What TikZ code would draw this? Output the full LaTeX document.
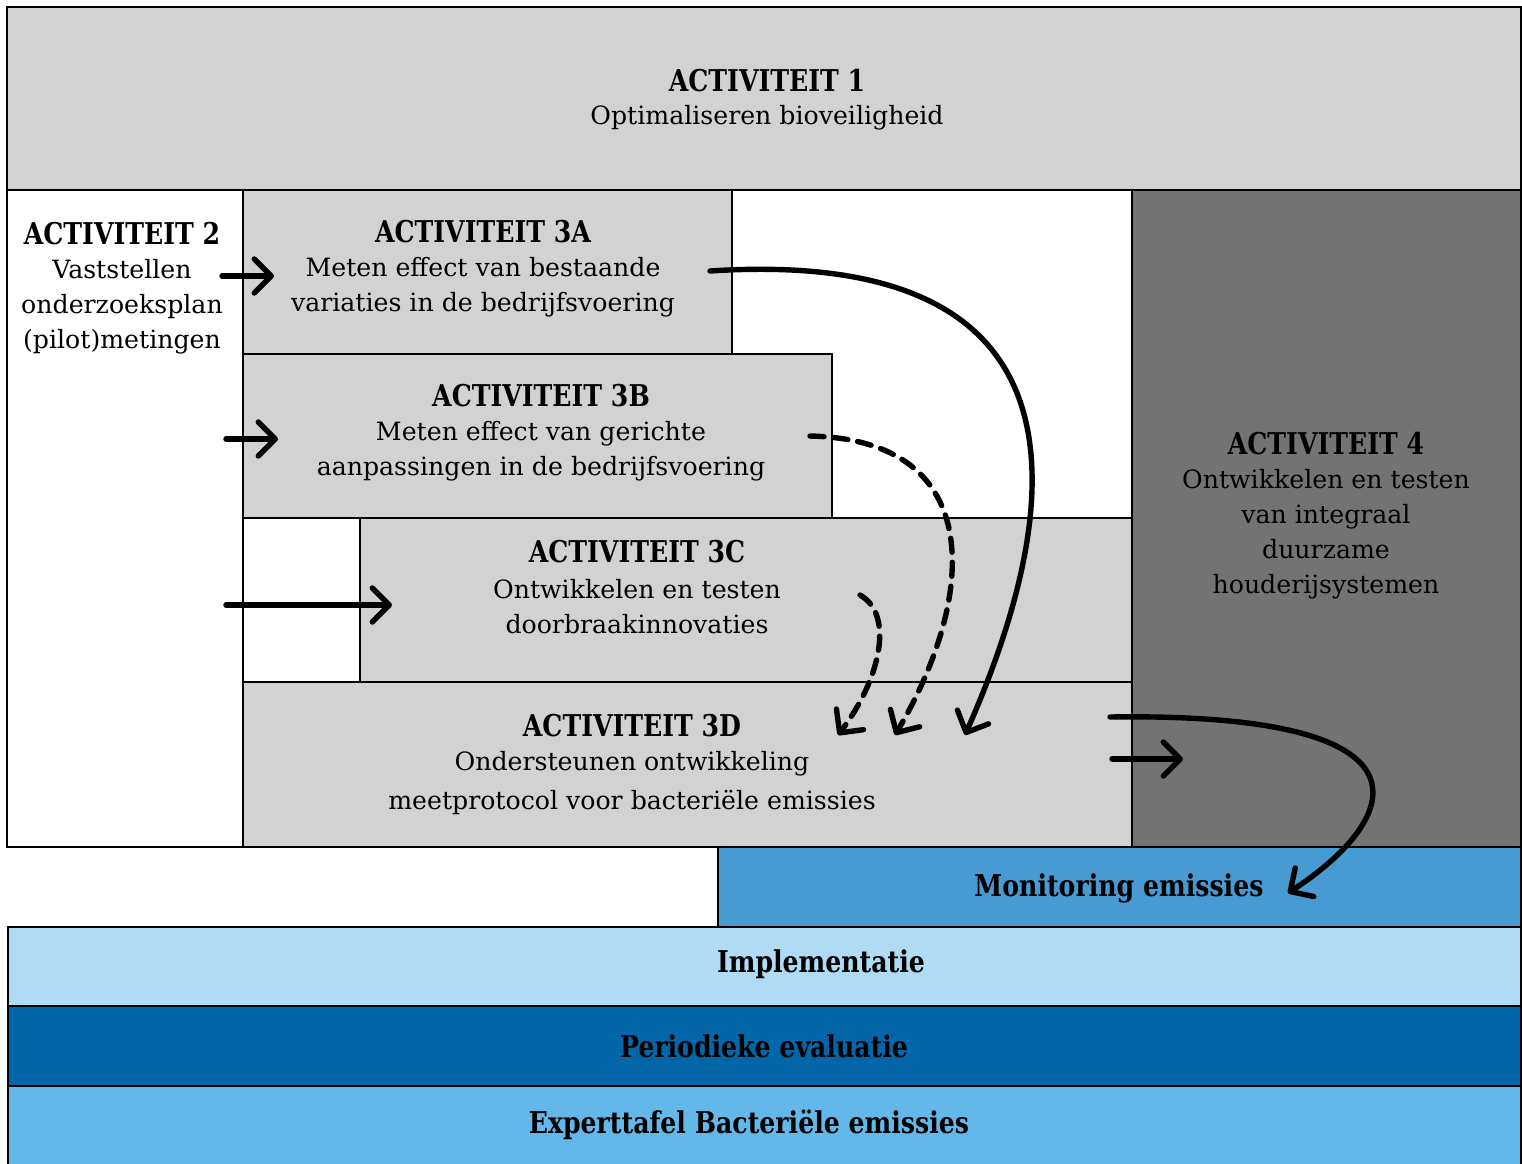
\documentclass[tikz,border=0pt]{standalone}
\usepackage{fontspec}
\setmainfont{DejaVu Serif}
\newfontfamily\headfont{DejaVu Serif}[FakeStretch=0.84]
\usetikzlibrary{arrows.meta}

\definecolor{actgray}{HTML}{D2D2D2}
\definecolor{actdark}{HTML}{737373}
\definecolor{monblue}{HTML}{479BD2}
\definecolor{impblue}{HTML}{AFDBF5}
\definecolor{evalblue}{HTML}{0366A9}
\definecolor{expblue}{HTML}{64B8E9}

\tikzset{
  box/.style={draw=black, line width=0.8pt},
  acttitle/.style={inner sep=0pt, font=\fontsize{15}{18}\selectfont\headfont\bfseries},
  acttext/.style={inner sep=0pt, align=center, font=\fontsize{12.6}{17.5}\selectfont},
  flow/.style={line width=2.7pt, line cap=round, -{Straight Barb[length=8.5pt,width=17pt,round]}},
  dashflow/.style={flow, dash pattern=on 7pt off 5pt},
}

\begin{document}
\begin{tikzpicture}[x=0.5pt,y=0.5pt]
\useasboundingbox (0,0) rectangle (1522,-1163);
\draw[box, fill=actgray] (7,-7) rectangle (1521,-190);
\draw[box, fill=white] (7,-190) rectangle (243,-847);
\draw[box, fill=actgray] (243,-190) rectangle (732,-354);
\draw[box, fill=actgray] (243,-354) rectangle (832,-518);
\draw[box, fill=white] (243,-518) rectangle (360,-682);
\draw[box, fill=actgray] (360,-518) rectangle (1132,-682);
\draw[box, fill=actgray] (243,-682) rectangle (1132,-847);
\draw[box, fill=actdark] (1132,-190) rectangle (1521,-847);
\draw[box, fill=monblue] (718,-847) rectangle (1521,-927);
\draw[box, fill=impblue] (8,-927) rectangle (1521,-1006);
\draw[box, fill=evalblue] (8,-1006) rectangle (1521,-1086);
\draw[box, fill=expblue] (8,-1086) rectangle (1521,-1175);

\node[acttitle] (act1title) at (767,-81) {ACTIVITEIT 1};
\node[acttext] (act1text) at (767,-118) {Optimaliseren bioveiligheid};
\node[acttitle] (act2title) at (122,-234) {ACTIVITEIT 2};
\node[acttext] (act2text) at (122,-306.5) {Vaststellen\\onderzoeksplan\\(pilot)metingen};
\node[acttitle] (act3atitle) at (483,-232) {ACTIVITEIT 3A};
\node[acttext] (act3atext) at (483,-287) {Meten effect van bestaande\\variaties in de bedrijfsvoering};
\node[acttitle] (act3btitle) at (541,-396) {ACTIVITEIT 3B};
\node[acttext] (act3btext) at (541,-451) {Meten effect van gerichte\\aanpassingen in de bedrijfsvoering};
\node[acttitle] (act3ctitle) at (637,-552) {ACTIVITEIT 3C};
\node[acttext] (act3ctext) at (637,-607) {Ontwikkelen en testen\\doorbraakinnovaties};
\node[acttitle] (act3dtitle) at (632,-726) {ACTIVITEIT 3D};
\node[acttext] (act3dtext) at (632,-783) {Ondersteunen ontwikkeling\\[2pt]meetprotocol voor bacteriële emissies};
\node[acttitle] (act4title) at (1326,-444) {ACTIVITEIT 4};
\node[acttext] (act4text) at (1326,-534.5) {Ontwikkelen en testen\\van integraal\\duurzame\\houderijsystemen};
\node[acttitle] (monitoring) at (1119,-888) {Monitoring emissies};
\node[acttitle] (implementatie) at (821,-964) {Implementatie};
\node[acttitle] (evaluatie) at (764,-1046) {Periodieke evaluatie};
\node[acttitle] (experttafel) at (749,-1125) {Experttafel Bacteriële emissies};

\coordinate (from2a) at (222,-276);
\coordinate (to3a) at (274,-276);
\coordinate (from2b) at (226,-439);
\coordinate (to3b) at (278,-439);
\coordinate (from2c) at (226,-605);
\coordinate (to3c) at (392,-605);
\coordinate (from3a) at (710,-271);
\coordinate (from3b) at (810,-436);
\coordinate (from3c) at (860,-595);
\coordinate (into3da) at (965,-735);
\coordinate (into3db) at (895,-735);
\coordinate (into3dc) at (838,-735);
\coordinate (from3d) at (1112,-759);
\coordinate (to4) at (1183,-759);
\coordinate (from3dmon) at (1110,-717);
\coordinate (tomon) at (1288,-893);

\draw[flow] (from2a) -- (to3a);
\draw[flow] (from2b) -- (to3b);
\draw[flow] (from2c) -- (to3c);
\draw[flow] (from3a) .. controls (1110,-245) and (1060,-520) .. (into3da);
\draw[dashflow] (from3b) .. controls (990,-440) and (975,-600) .. (into3db);
\draw[dashflow] (from3c) .. controls (895,-615) and (880,-680) .. (into3dc);
\draw[flow] (from3d) -- (to4);
\draw[flow] (from3dmon) .. controls (1450,-712) and (1400,-820) .. (tomon);
\end{tikzpicture}
\end{document}
